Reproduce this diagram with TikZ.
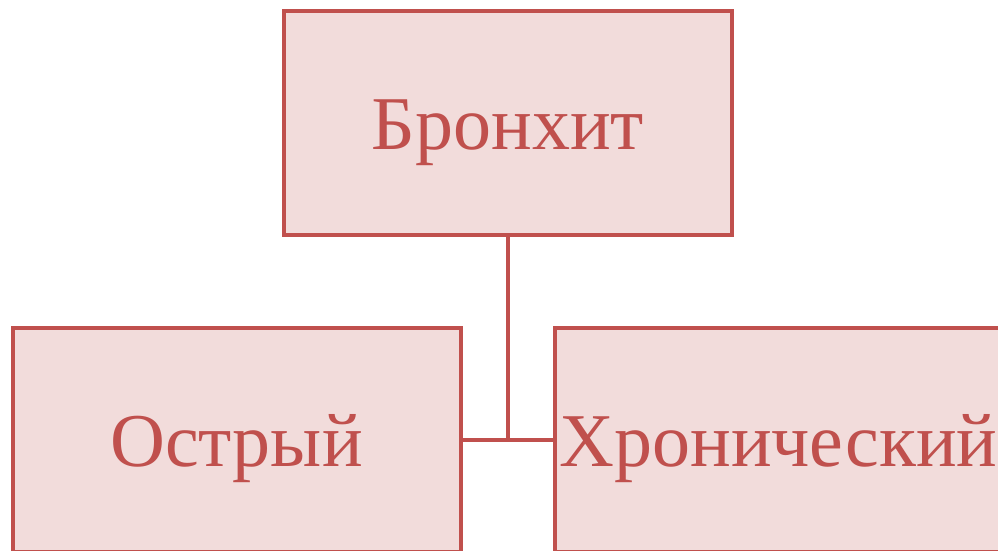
\documentclass[tikz,border=0pt]{standalone}
\usepackage{fontspec}
\setmainfont{Liberation Serif}
\definecolor{boxred}{RGB}{192,80,77}
\definecolor{boxfill}{RGB}{242,220,219}
\begin{document}
\begin{tikzpicture}[x=1pt,y=-1pt,
  cell/.style={draw=boxred,fill=boxfill,line width=4pt,minimum width=448pt,minimum height=224pt,inner sep=0pt,
    text height=58pt,text depth=6pt,
    text=boxred,font=\fontsize{76}{80}\selectfont},
  link/.style={draw=boxred,line width=4pt}]
\useasboundingbox (0,0) rectangle (998,551);
\clip (0,0) rectangle (998,551);
\node[cell] (top) at (508,123) {Бронхит};
\node[cell] (left) at (236.5,440) {Острый};
\node[cell] (right) at (778.5,440) {Хронический};
\coordinate (j) at (508,440);
\draw[link] (top.south) -- (j);
\draw[link] (left.east) -- (right.west);
\end{tikzpicture}
\end{document}
